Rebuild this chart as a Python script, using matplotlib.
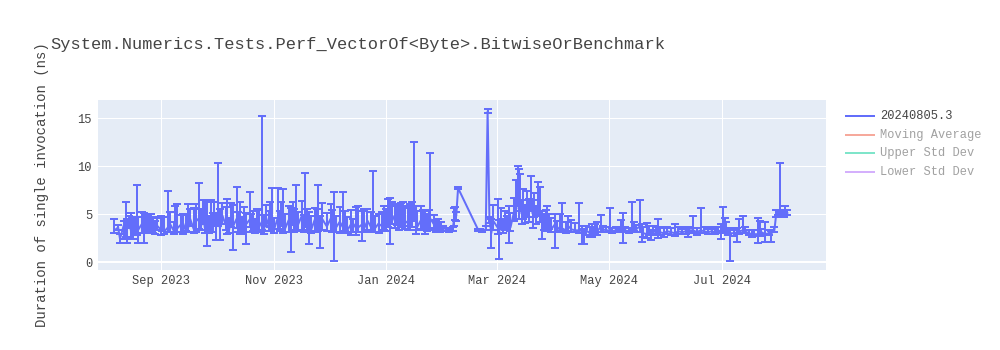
import matplotlib
matplotlib.use('Agg')
import matplotlib.pyplot as plt
import matplotlib.dates as mdates
from matplotlib.lines import Line2D
import numpy as np
import pandas as pd

# ---------------- data ----------------
aug23_days = [10, 12, 13, 15, 16, 17, 18, 19, 20, 21, 22, 23, 25, 26, 27, 28, 29, 30, 31]
aug23_val = [3.3, 3.6, 2.4, 3.8, 3.2, 3.5, 4.0, 3.2, 3.6, 3.3, 3.8, 3.4, 4.0, 3.5, 3.3, 4.2, 3.2, 3.9, 3.5]
aug23_up = [1.2, 0.3, 0.5, 0.5, 3.0, 1.0, 0.8, 1.9, 1.1, 1.2, 4.2, 1.3, 1.2, 1.6, 1.7, 0.8, 1.8, 1.1, 1.2]
aug23_dn = [0.3, 0.3, 0.4, 1.4, 0.6, 1.5, 0.5, 0.8, 1.2, 0.5, 1.0, 1.4, 1.0, 1.5, 0.3, 0.9, 0.2, 0.8, 0.5]

sep23_days = [1, 2, 4, 5, 6, 8, 9, 11, 12, 13, 15, 16, 18, 19, 20, 22, 23, 25, 26, 27, 28, 29, 30]
sep23_val = [3.3, 3.8, 3.4, 4.1, 3.2, 3.6, 4.0, 3.3, 4.3, 3.5, 3.9, 3.1, 4.2, 3.6, 4.5, 3.4, 4.6, 4.2, 3.8, 5.0, 3.5, 4.4, 3.3]
sep23_up = [1.0, 0.8, 1.4, 0.6, 1.5, 3.8, 1.2, 0.9, 1.5, 2.5, 1.0, 1.9, 0.8, 2.4, 1.0, 2.2, 1.4, 4.0, 1.7, 1.5, 3.0, 1.9, 1.5]
sep23_dn = [0.4, 0.5, 0.6, 0.9, 0.3, 0.5, 0.9, 0.4, 1.2, 0.4, 0.8, 0.2, 1.0, 0.5, 0.7, 0.4, 1.5, 0.8, 0.5, 1.0, 0.5, 2.7, 0.3]

oct23_days = [1, 2, 3, 4, 5, 6, 7, 9, 10, 11, 12, 13, 15, 16, 17, 18, 19, 20, 22, 23, 24, 25, 26, 27, 29, 30, 31]
oct23_val = [4.5, 3.6, 4.8, 3.8, 4.6, 3.5, 5.0, 3.9, 4.4, 3.4, 4.8, 3.7, 4.5, 3.6, 4.2, 3.2, 4.7, 3.9, 4.4, 3.5, 4.0, 3.3, 4.6, 3.6, 4.3, 3.5, 4.6]
oct23_up = [2.0, 1.5, 1.4, 1.2, 5.7, 2.0, 1.1, 1.8, 2.2, 1.2, 1.3, 2.2, 3.3, 1.6, 2.0, 1.5, 1.0, 1.2, 2.9, 1.5, 1.3, 1.2, 0.9, 1.8, 10.9, 1.4, 1.3]
oct23_dn = [1.4, 0.5, 0.9, 1.5, 0.8, 1.2, 1.0, 0.6, 1.5, 0.4, 1.2, 2.5, 1.0, 0.5, 1.3, 0.3, 1.6, 2.0, 0.8, 0.4, 0.8, 0.3, 1.5, 0.5, 1.0, 0.6, 0.9]

nov23_days = [1, 2, 3, 4, 6, 7, 8, 9, 10, 12, 13, 14, 15, 16, 17, 19, 20, 21, 22, 23, 24, 26, 27, 28, 29, 30]
nov23_val = [3.8, 5.0, 4.2, 3.4, 4.6, 3.7, 5.2, 4.0, 3.5, 4.4, 3.8, 4.9, 3.6, 4.5, 3.9, 4.8, 3.4, 4.6, 3.7, 4.2, 3.3, 4.4, 3.6, 4.1, 3.5, 4.5]
nov23_up = [1.5, 1.2, 3.5, 1.2, 3.1, 1.6, 1.0, 3.6, 1.5, 1.4, 1.8, 1.3, 1.9, 3.5, 1.3, 1.6, 1.5, 4.7, 1.8, 1.0, 1.5, 1.2, 1.9, 3.9, 1.3, 1.6]
nov23_dn = [0.6, 1.4, 0.8, 0.4, 1.2, 0.5, 1.5, 1.0, 0.4, 1.3, 2.8, 1.0, 0.5, 1.2, 0.7, 1.5, 0.3, 1.0, 0.6, 2.3, 0.3, 1.2, 0.5, 0.9, 2.0, 1.2]

dec23_days = [1, 3, 4, 5, 6, 8, 10, 11, 12, 14, 15, 17, 18, 20, 21, 23, 25, 26, 27, 29, 31]
dec23_val = [3.7, 4.5, 3.4, 4.0, 3.6, 4.2, 3.5, 4.0, 3.3, 3.9, 3.5, 4.1, 3.6, 3.9, 3.4, 4.3, 3.6, 3.9, 3.5, 4.0, 3.7]
dec23_up = [1.4, 1.5, 2.0, 3.3, 1.2, 1.5, 3.8, 1.3, 1.4, 1.5, 1.0, 1.6, 2.2, 1.4, 2.1, 1.2, 1.6, 5.6, 1.3, 1.0, 1.5]
dec23_dn = [0.5, 1.3, 0.3, 3.9, 0.5, 1.2, 0.5, 0.8, 0.3, 1.1, 0.4, 1.3, 0.5, 1.7, 0.3, 1.0, 0.5, 0.8, 0.4, 1.0, 0.5]

jan24_days = [1, 2, 3, 4, 5, 7, 8, 9, 10, 11, 12, 14, 15, 16, 17, 18, 19, 21, 22, 23, 24, 25, 26, 28, 29, 30, 31]
jan24_val = [4.3, 3.6, 4.8, 4.0, 5.0, 4.2, 5.1, 3.8, 4.6, 5.2, 4.0, 4.3, 4.3, 5.0, 4.8, 4.6, 3.7, 4.4, 3.8, 3.9, 3.6, 4.2, 4.5, 3.9, 3.4, 3.7, 3.3]
jan24_up = [1.5, 1.9, 1.8, 2.7, 1.2, 1.6, 0.9, 2.0, 1.5, 1.0, 1.8, 1.3, 1.7, 1.3, 7.7, 1.2, 1.6, 1.4, 1.6, 1.4, 1.4, 1.2, 6.9, 1.0, 1.0, 0.8, 0.9]
jan24_dn = [1.0, 0.4, 1.2, 2.1, 1.0, 0.7, 1.2, 0.5, 1.0, 1.5, 0.6, 1.0, 1.0, 1.4, 0.5, 1.7, 0.4, 1.0, 0.5, 1.0, 0.4, 0.8, 1.0, 0.6, 0.3, 0.4, 0.2]

feb24_days = [1, 2, 4, 5, 7, 8, 8.5, 9, 10, 21, 22, 23, 25, 26, 27, 28, 29]
feb24_val = [3.5, 3.3, 3.3, 3.2, 3.3, 4.7, 5.0, 4.8, 7.7, 3.3, 3.3, 3.2, 3.4, 15.7, 4.4, 3.0, 4.3]
feb24_up = [0.7, 0.4, 0.2, 0.2, 0.3, 0.9, 0.7, 0.4, 0.1, 0.1, 0.1, 0.1, 0.4, 0.2, 0.3, 1.5, 1.6]
feb24_dn = [0.3, 0.1, 0.1, 0.1, 0.1, 1.0, 0.6, 0.5, 0.1, 0.1, 0.1, 0.1, 0.1, 0.2, 0.3, 1.5, 1.0]

mar24_days = [1, 2, 3, 4, 5, 6, 7, 8, 10, 11, 12, 12.5, 13, 14, 15, 16, 17, 18, 19, 20, 21, 22, 23, 24, 25, 26, 27, 28, 29, 30]
mar24_val = [3.6, 3.2, 4.4, 3.5, 4.5, 3.8, 4.7, 3.6, 5.3, 6.0, 6.8, 5.5, 6.5, 5.0, 5.8, 4.9, 6.2, 5.2, 6.4, 5.0, 5.7, 4.8, 6.0, 5.5, 4.3, 3.8, 4.4, 3.6, 4.1, 3.4]
mar24_up = [3.0, 1.2, 1.2, 1.0, 0.8, 1.0, 1.1, 1.5, 1.4, 2.5, 3.2, 4.2, 2.7, 1.5, 1.8, 1.0, 1.2, 1.4, 2.6, 1.5, 1.5, 1.0, 2.3, 2.3, 1.0, 1.2, 1.0, 2.2, 0.9, 1.2]
mar24_dn = [0.7, 2.9, 1.0, 0.5, 1.2, 0.5, 2.7, 0.4, 1.0, 1.5, 1.0, 1.0, 1.2, 1.0, 1.3, 0.8, 1.5, 1.0, 1.1, 1.5, 1.0, 0.8, 1.2, 1.3, 1.9, 0.5, 0.8, 0.4, 0.7, 0.3]

apr24_days = [1, 2, 4, 5, 7, 8, 10, 12, 14, 16, 17, 18, 20, 21, 22, 23, 24, 26, 27, 29]
apr24_val = [3.9, 3.3, 3.7, 3.5, 3.3, 3.8, 3.4, 3.3, 3.3, 3.2, 2.8, 3.3, 3.0, 3.5, 3.1, 3.6, 3.2, 3.7, 3.4, 3.3]
apr24_up = [1.1, 1.0, 1.3, 2.6, 0.9, 1.0, 1.0, 0.8, 2.8, 0.5, 0.6, 0.4, 0.6, 0.5, 0.5, 0.4, 1.0, 1.2, 0.4, 0.3]
apr24_dn = [2.4, 0.2, 0.5, 0.4, 0.3, 0.6, 0.3, 0.2, 0.3, 1.3, 0.9, 0.5, 0.4, 0.9, 0.3, 0.6, 0.4, 0.6, 0.3, 0.2]

may24_days = [1, 2, 4, 6, 7, 8, 9, 11, 13, 14, 15, 17, 18, 19, 21, 22, 23, 24, 26, 27, 28, 30]
may24_val = [3.3, 3.2, 3.3, 3.2, 3.4, 3.1, 3.3, 3.2, 3.5, 3.6, 3.4, 3.7, 3.2, 3.0, 2.9, 3.3, 2.8, 3.1, 3.2, 2.9, 3.1, 3.0]
may24_up = [2.3, 0.3, 0.3, 0.2, 1.0, 2.0, 0.3, 0.3, 2.7, 0.6, 0.5, 2.8, 0.8, 0.6, 1.2, 0.4, 0.5, 0.6, 0.4, 1.6, 0.5, 0.5]
may24_dn = [0.2, 0.2, 0.2, 0.1, 0.3, 1.1, 0.2, 0.2, 0.3, 0.4, 0.3, 0.6, 1.1, 0.4, 0.4, 0.5, 0.5, 0.3, 0.3, 0.4, 0.3, 0.4]

jun24_days = [1, 3, 5, 7, 9, 11, 12, 13, 15, 17, 19, 21, 23, 25, 27, 28, 30]
jun24_val = [3.2, 3.1, 3.0, 3.2, 3.1, 3.2, 3.0, 3.3, 3.3, 3.1, 3.3, 3.2, 3.1, 3.2, 3.1, 3.3, 3.2]
jun24_up = [0.4, 0.4, 1.0, 0.4, 0.3, 0.4, 0.5, 0.3, 1.5, 0.4, 2.3, 0.4, 0.3, 0.4, 0.3, 0.3, 0.8]
jun24_dn = [0.3, 0.3, 0.3, 0.3, 0.2, 0.3, 0.4, 0.2, 0.3, 0.3, 0.3, 0.2, 0.2, 0.3, 0.2, 0.2, 0.8]

jul24_days = [1, 2, 3, 4, 5, 7, 9, 10, 12, 13, 15, 17, 18, 20, 21, 22, 24, 26, 27, 29, 30, 31]
jul24_val = [3.4, 3.5, 3.6, 3.1, 3.0, 3.0, 3.1, 3.2, 3.3, 3.2, 3.0, 2.9, 2.9, 2.9, 3.0, 3.1, 2.9, 3.0, 2.9, 3.3, 5.0, 5.1]
jul24_up = [2.3, 1.1, 0.6, 0.4, 0.5, 0.3, 0.4, 1.3, 1.5, 0.4, 0.3, 0.4, 0.4, 1.7, 1.3, 0.3, 1.3, 0.3, 0.3, 0.3, 0.4, 0.3]
jul24_dn = [0.4, 0.3, 0.3, 0.3, 2.9, 0.3, 1.0, 0.3, 0.3, 0.2, 0.2, 0.3, 0.1, 0.9, 0.3, 0.2, 0.8, 0.2, 0.8, 0.2, 0.3, 0.2]

aug24_days = [1, 2, 3, 4, 5]
aug24_val = [5.2, 5.1, 5.0, 5.1, 5.1]
aug24_up = [5.1, 0.3, 0.3, 0.7, 0.3]
aug24_dn = [0.2, 0.2, 0.3, 0.2, 0.2]

# (month, day-reading correction in days, days, values, +err, -err)
months = [
    ("2023-08", -3.2, aug23_days, aug23_val, aug23_up, aug23_dn),
    ("2023-09", -3.2, sep23_days, sep23_val, sep23_up, sep23_dn),
    ("2023-10", -3.0, oct23_days, oct23_val, oct23_up, oct23_dn),
    ("2023-11", -2.7, nov23_days, nov23_val, nov23_up, nov23_dn),
    ("2023-12", -1.1, dec23_days, dec23_val, dec23_up, dec23_dn),
    ("2024-01", -1.0, jan24_days, jan24_val, jan24_up, jan24_dn),
    ("2024-02", -1.0, feb24_days, feb24_val, feb24_up, feb24_dn),
    ("2024-03", 0.4, mar24_days, mar24_val, mar24_up, mar24_dn),
    ("2024-04", 0.4, apr24_days, apr24_val, apr24_up, apr24_dn),
    ("2024-05", 0.4, may24_days, may24_val, may24_up, may24_dn),
    ("2024-06", 0.4, jun24_days, jun24_val, jun24_up, jun24_dn),
    ("2024-07", 0.4, jul24_days, jul24_val, jul24_up, jul24_dn),
    ("2024-08", 0.4, aug24_days, aug24_val, aug24_up, aug24_dn),
]

title = "System.Numerics.Tests.Perf_VectorOf<Byte>.BitwiseOrBenchmark"
y_title = "Duration of single invocation (ns)"
legend_labels = ["20240805.3", "Moving Average", "Upper Std Dev", "Lower Std Dev"]
legend_colors = ["#636efa", "#EF553B", "#00cc96", "#ab63fa"]
legend_visible = [True, False, False, False]
x_tick_dates = ["2023-09-01", "2023-11-01", "2024-01-01", "2024-03-01", "2024-05-01", "2024-07-01"]
y_ticks = [0, 5, 10, 15]

# ---------------- assemble ----------------
dates, vals, ups, dns = [], [], [], []
for ym, shift, d, v, u, dn in months:
    assert len(d) == len(v) == len(u) == len(dn), ym
    base = pd.Timestamp(ym + "-01")
    dates.extend(base + pd.to_timedelta(np.array(d, dtype=float) - 1 + shift, unit="D"))
    vals.extend(v)
    ups.extend(u)
    dns.extend(dn)
dates = pd.to_datetime(dates)

# ---------------- draw ----------------
plt.rcParams['font.family'] = ['Liberation Mono', 'DejaVu Sans Mono']
W, H = 1000, 350
fig = plt.figure(figsize=(10, 3.5), dpi=100)
px = 72 / 100  # points per pixel

L, R, T, B = 98, 826, 100, 270
ax = fig.add_axes([L / W, 1 - B / H, (R - L) / W, (B - T) / H])
ax.set_facecolor('#E5ECF6')
for s in ax.spines.values():
    s.set_visible(False)
ax.grid(True, color='white', lw=1 * px)
ax.set_axisbelow(True)
ax.axhline(0, color='white', lw=2 * px, zorder=1)

ax.errorbar(dates, vals, yerr=[dns, ups], color='#636efa', lw=2 * px,
            ecolor='#636efa', elinewidth=2 * px, capsize=4 * px, capthick=2 * px, zorder=3)

ax.set_xlim(pd.Timestamp('2023-07-28 21:00'), pd.Timestamp('2024-08-26 09:00'))
ax.set_ylim(-0.833, 16.875)
ax.set_xticks(pd.to_datetime(x_tick_dates))
ax.xaxis.set_major_formatter(mdates.DateFormatter('%b %Y'))
ax.set_yticks(y_ticks)
ax.tick_params(length=0, labelsize=12 * px, colors='#444444')
ax.tick_params(axis='x', pad=5 * px)
ax.tick_params(axis='y', pad=6 * px)

fig.text(50 / W, 1 - 45 / H, title, fontsize=17 * px, color='#444444', va='center', ha='left')
fig.text(42 / W, 1 - 185 / H, y_title, fontsize=14 * px, color='#444444', va='center', ha='center', rotation=90)

# legend
for i, (lab, col, vis) in enumerate(zip(legend_labels, legend_colors, legend_visible)):
    y = 1 - (116 + i * 18.7) / H
    a = 1.0 if vis else 0.5
    fig.add_artist(Line2D([846 / W, 874 / W], [y, y], transform=fig.transFigure,
                          color=col, lw=2 * px, alpha=a))
    fig.text(880 / W, y, lab, fontsize=12 * px, color='#444444', alpha=a, va='center', ha='left')

fig.savefig('out.png', dpi=100, facecolor='white')
